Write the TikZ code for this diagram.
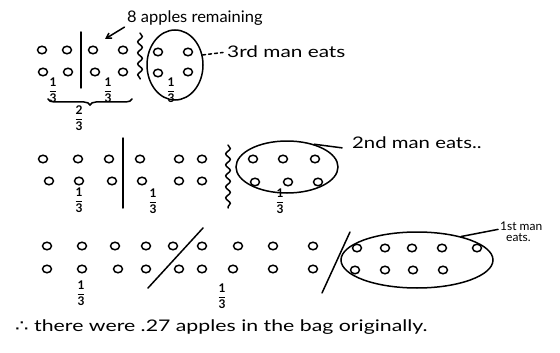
\documentclass[tikz,border=0pt]{standalone}
\usepackage{fontspec}
\setmainfont{Lato}
\newfontfamily\dejavu{DejaVu Sans}
\usetikzlibrary{shapes.geometric,decorations.pathmorphing,decorations.pathreplacing,arrows.meta}
\newcommand{\onethird}{$\displaystyle\frac{\mbox{1}}{\mbox{3}}$}
\newcommand{\twothirds}{$\displaystyle\frac{\mbox{2}}{\mbox{3}}$}
\begin{document}
\begin{tikzpicture}[x=1pt,y=-1pt,
  apple/.style={draw,ellipse,minimum width=9pt,minimum height=7.5pt,inner sep=0pt,line width=1.5pt},
  pen/.style={line width=1.5pt,line cap=round},
  grp/.style={draw,ellipse,line width=1.5pt,inner sep=0pt},
  lbl/.style={font=\fontsize{16}{18}\selectfont,anchor=west,inner sep=0pt},
  frc/.style={font=\fontsize{12}{13}\bfseries\selectfont,inner sep=0pt},
  squig/.style={pen,decorate,decoration={snake,amplitude=2.3pt,segment length=11pt}},
]
\useasboundingbox (0,0) rectangle (560,353);

% ---------- Row 1 ----------
\foreach \x/\n in {42/a,67/b,93/c,123/d} \node[apple] (ta\n) at (\x,50) {};
\foreach \x/\n in {43/a,68/b,95/c,123/d} \node[apple] (ba\n) at (\x,72) {};
\coordinate (d1t) at (81,32); \coordinate (d1b) at (81,88);
\draw[pen] (d1t) -- (d1b);
\node[frc] (fa1) at (53,90) {\onethird};
\node[frc] (fa2) at (108,90) {\onethird};
\coordinate (brl) at (48,99); \coordinate (brr) at (132,99);
\draw[pen,decorate,decoration={brace,mirror,amplitude=6pt}] (brl) -- (brr);
\node[frc] (fa3) at (79,118) {\twothirds};
\coordinate (s1t) at (140,33); \coordinate (s1b) at (140,79);
\draw[squig] (s1t) -- (s1b);
\node[grp,minimum width=56pt,minimum height=70pt] (g3) at (175,65) {};
\foreach \x/\y/\n in {158/52/a,188/52/b,158/73/c,188/72/d} \node[apple] (ea\n) at (\x,\y) {};
\node[frc] (fa4) at (171,90) {\onethird};
\node[lbl] (l3) at (227,52) {\scalebox{1.3}[1]{3rd man eats}};
\draw[pen,dash pattern=on 3pt off 3pt,shorten >=4pt] (g3.20) -- (l3.west);
\node[lbl] (rem) at (127,18) {\scalebox{1.03}[1]{8 apples remaining}};
\coordinate (arrtip) at (105,39);
\draw[pen,-{Straight Barb[length=5pt,width=6pt]},shorten <=3pt] (rem.south west) -- (arrtip);

% ---------- Row 2 ----------
\foreach \x/\n in {43/a,78/b,109/c,140/d,179/e,202/f} \node[apple] (tb\n) at (\x,159) {};
\foreach \x/\n in {49/a,79/b,112/c,142/d,179/e,202/f} \node[apple] (bb\n) at (\x,181) {};
\coordinate (d2t) at (123,138); \coordinate (d2b) at (123,208);
\draw[pen] (d2t) -- (d2b);
\node[frc] (fb1) at (79,200) {\onethird};
\node[frc] (fb2) at (153,201) {\onethird};
\coordinate (s2t) at (228,145); \coordinate (s2b) at (228,208);
\draw[squig] (s2t) -- (s2b);
\node[grp,minimum width=102pt,minimum height=52pt] (g2) at (287,167) {};
\foreach \x/\n in {253/a,283/b,315/c} \node[apple] (eb\n) at (\x,159) {};
\foreach \x/\n in {255/d,288/e,318/f} \node[apple] (eb\n) at (\x,182) {};
\node[frc] (fb3) at (280,201) {\onethird};
\node[lbl] (l2) at (352,143) {\scalebox{1.27}[1]{2nd man eats..}};
\draw[pen,shorten >=10pt] (g2.40) -- (l2.south west);

% ---------- Row 3 ----------
\foreach \x/\n in {47/a,82/b,115/c,146/d,173/e,202/f,238/g,273/h,313/i} \node[apple] (tc\n) at (\x,246) {};
\foreach \x/\n in {47/a,82/b,118/c,146/d,179/e,202/f,233/g,273/h,313/i} \node[apple] (bc\n) at (\x,269) {};
\coordinate (sl1a) at (148,288); \coordinate (sl1b) at (203,228);
\draw[pen] (sl1a) -- (sl1b);
\coordinate (sl2a) at (322,293); \coordinate (sl2b) at (350,232);
\draw[pen] (sl2a) -- (sl2b);
\node[frc] (fc1) at (81,293) {\onethird};
\node[frc] (fc2) at (222,296) {\onethird};
\node[grp,minimum width=152pt,minimum height=56pt] (g1) at (417,260) {};
\foreach \x/\n in {357/a,385/b,412/c,442/d,477/e} \node[apple] (ec\n) at (\x,248) {};
\foreach \x/\n in {355/f,385/g,413/h,443/i} \node[apple] (ec\n) at (\x,270) {};
\node[font=\fontsize{12}{12}\selectfont,align=left,anchor=north west,inner sep=0pt] (l1) at (500,222) {1st man\\[-1pt]\hspace*{6pt}eats.};
\draw[pen,shorten >=2pt] (g1.28) -- (l1.west |- 0,229);

% ---------- Conclusion ----------
\node[lbl] (concl) at (15,327) {\scalebox{1.33}[1]{{\dejavu ∴} there were .27 apples in the bag originally.}};
\end{tikzpicture}
\end{document}
